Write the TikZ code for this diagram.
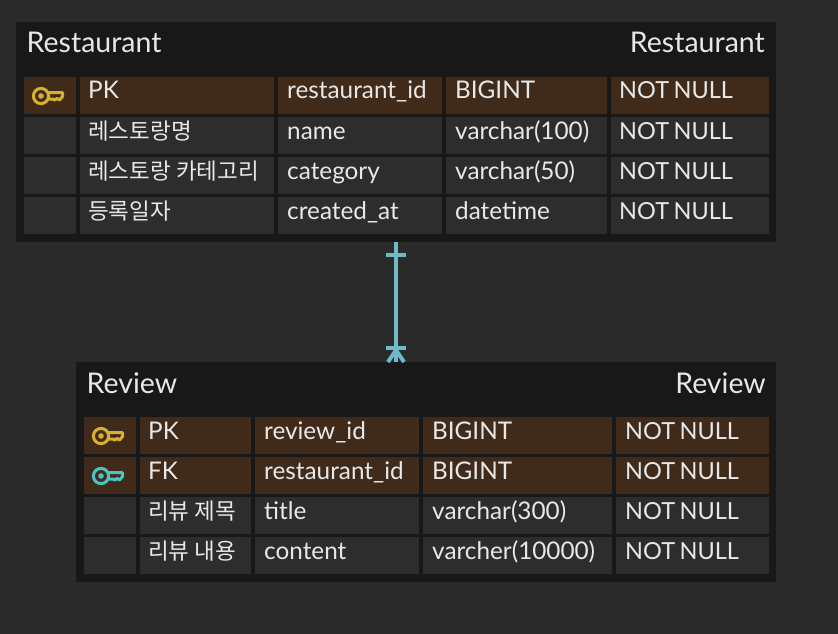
\documentclass[tikz,border=0pt]{standalone}
\usepackage{fontspec}
\setmainfont{Lato}
\newfontfamily\krfont{Noto Sans CJK KR}
\definecolor{pagebg}{HTML}{2A2A2A}
\definecolor{tablebg}{HTML}{181818}
\definecolor{cellbg}{HTML}{2D2D2D}
\definecolor{keybg}{HTML}{402B1B}
\definecolor{textfg}{HTML}{E8E8E8}
\definecolor{relfg}{HTML}{6FB9C8}
\definecolor{pkfg}{HTML}{D6B12F}
\definecolor{fkfg}{HTML}{4EC3C4}
\newcommand{\notnull}{\fontsize{23.5}{23.5}\selectfont NOT\hspace{-1.5pt} NULL}
\tikzset{
  tablebox/.style={fill=tablebg,inner sep=0pt,outer sep=0pt,anchor=north west},
  cell/.style={fill=cellbg,inner sep=0pt,outer sep=0pt,anchor=north west,minimum height=37pt},
  keycell/.style={cell,fill=keybg},
  title/.style={text=textfg,inner sep=0pt,font=\fontsize{28.5}{28.5}\selectfont},
  txt/.style={text=textfg,inner sep=0pt,anchor=base west,font=\fontsize{24.3}{24.3}\selectfont},
  kr/.style={txt,font=\fontsize{22.5}{22.5}\selectfont\krfont},
  relline/.style={draw=relfg,line width=4pt},
  keyicon/.pic={
    \draw[line width=3pt] (9,0) circle (7.6);
    \fill (9,0) circle (2.8);
    \draw[line width=3pt,line join=round] (17,-3.4) -- (30.5,-3.4) -- (30.5,0.5) -- (27.5,4) -- (25,2.5) -- (22.5,4) -- (21,3) -- (17,3);
  }
}
\begin{document}
\begin{tikzpicture}[x=1pt,y=-1pt]
\fill[pagebg] (0,0) rectangle (838,634);
\useasboundingbox (0,0) rectangle (838,634);
% Restaurant
\node[tablebox,minimum width=760pt,minimum height=220pt] (restaurant) at (16,22) {};
\node[title,anchor=base west] (resttitle) at (26.5,53) {Restaurant};
\node[title,anchor=base east] (restname) at (765,53) {Restaurant};
\foreach \n/\y/\s in {1/77/keycell,2/117/cell,3/157/cell,4/197/cell} {
  \node[\s,minimum width=52pt] (rest\n a) at (24,\y) {};
  \node[\s,minimum width=194pt] (rest\n b) at (80,\y) {};
  \node[\s,minimum width=164pt] (rest\n c) at (278,\y) {};
  \node[\s,minimum width=161pt] (rest\n d) at (446,\y) {};
  \node[\s,minimum width=158pt] (rest\n e) at (611,\y) {};
}
\pic[pkfg,draw=pkfg,fill=pkfg] at (32,96) {keyicon};
\node[txt] (restpk) at (88,99) {PK};
\node[kr] (restk1) at (88,139) {\krfont 레스토랑명};
\node[kr] (restk2) at (88,179) {\krfont 레스토랑 카테고리};
\node[kr] (restk3) at (88,219) {\krfont 등록일자};
\foreach \n/\y/\a/\b in {1/99/restaurant\_id/BIGINT,2/139/name/varchar(100),3/179/category/varchar(50),4/219/created\_at/datetime} {
  \node[txt] (restcol\n) at (287,\y) {\a};
  \node[txt] (resttype\n) at (455,\y) {\b};
  \node[txt] (restnull\n) at (619,\y) {\notnull};
}
% Review
\node[tablebox,minimum width=700pt,minimum height=220pt] (review) at (76,362) {};
\node[title,anchor=base west] (revtitle) at (86.5,393) {Review};
\node[title,anchor=base east] (revname) at (766,393) {Review};
\foreach \n/\y/\s in {1/417/keycell,2/457/keycell,3/497/cell,4/537/cell} {
  \node[\s,minimum width=52pt] (rev\n a) at (84,\y) {};
  \node[\s,minimum width=111pt] (rev\n b) at (140,\y) {};
  \node[\s,minimum width=164pt] (rev\n c) at (255,\y) {};
  \node[\s,minimum width=189pt] (rev\n d) at (423,\y) {};
  \node[\s,minimum width=153pt] (rev\n e) at (616,\y) {};
}
\pic[pkfg,draw=pkfg,fill=pkfg] at (92,436) {keyicon};
\pic[fkfg,draw=fkfg,fill=fkfg] at (92,476) {keyicon};
\node[txt] (revpk) at (148,439) {PK};
\node[txt] (revfk) at (148,479) {FK};
\node[kr] (revk1) at (148,519) {\krfont 리뷰 제목};
\node[kr] (revk2) at (148,559) {\krfont 리뷰 내용};
\foreach \n/\y/\a/\b in {1/439/review\_id/BIGINT,2/479/restaurant\_id/BIGINT,3/519/title/varchar(300),4/559/content/varcher(10000)} {
  \node[txt] (revcol\n) at (264,\y) {\a};
  \node[txt] (revtype\n) at (432,\y) {\b};
  \node[txt] (revnull\n) at (625,\y) {\notnull};
}
% one to many
\coordinate (relend) at (restaurant.south |- review.north);
\draw[relline] (restaurant.south) -- (relend);
\draw[relline] ([xshift=-10pt,yshift=-13pt]restaurant.south) -- ([xshift=10pt,yshift=-13pt]restaurant.south);
\draw[relline] ([xshift=-10pt,yshift=14pt]relend) -- ([xshift=10pt,yshift=14pt]relend);
\draw[relline] ([yshift=12pt]relend) -- ([xshift=-8pt]relend);
\draw[relline] ([yshift=12pt]relend) -- ([xshift=8pt]relend);
\end{tikzpicture}
\end{document}
